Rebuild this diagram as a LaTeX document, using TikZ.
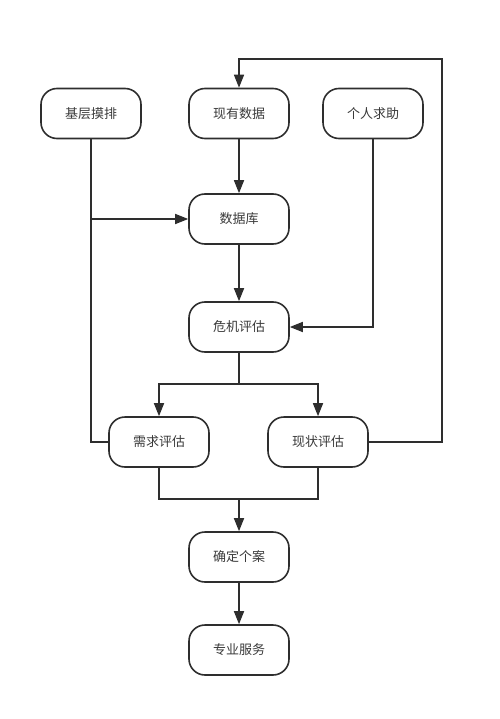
\documentclass[tikz,border=0pt]{standalone}
\usepackage{fontspec}
\newfontfamily\cjk{Noto Sans CJK SC}
\usetikzlibrary{arrows.meta}
\definecolor{ln}{HTML}{2E2E2E}
\definecolor{tx}{HTML}{3A3A3A}
\tikzset{
  box/.style={draw=ln, line width=1.6pt, rounded corners=16pt, fill=white,
    minimum width=100pt, minimum height=50pt, inner sep=0pt,
    font=\cjk\fontsize{13}{15}\selectfont, text=tx},
  conn/.style={draw=ln, line width=1.6pt},
  arr/.style={conn, -{Triangle[length=13pt,width=10pt]}}
}
\begin{document}
\begin{tikzpicture}[x=1pt,y=-1pt]
\useasboundingbox (0,0) rectangle (499,719);
\node[box] (jc) at (91,113.5) {基层摸排};
\node[box] (xy) at (239,113.5) {现有数据};
\node[box] (gr) at (373,113.5) {个人求助};
\node[box] (sj) at (239,219) {数据库};
\node[box] (wj) at (239,327) {危机评估};
\node[box] (xq) at (159,442) {需求评估};
\node[box] (xz) at (318,442) {现状评估};
\node[box] (qd) at (239,557) {确定个案};
\node[box] (zy) at (239,650) {专业服务};
\coordinate (top) at (239,59);
\coordinate (rt) at (442,59);
\coordinate (lj) at (91,219);
\coordinate (sp) at (239,384);
\coordinate (mg) at (239,499);
\draw[arr] (jc.south) -- (lj) -- (sj.west);
\draw[conn] (xq.west) -| (lj);
\draw[arr] (xy) -- (sj);
\draw[arr] (gr.south) |- (wj.east);
\draw[arr] (sj) -- (wj);
\draw[conn] (wj.south) -- (sp);
\draw[arr] (sp) -| (xq.north);
\draw[arr] (sp) -| (xz.north);
\draw[arr] (xz.east) -| (rt) -- (top) -- (xy.north);
\draw[conn] (xq.south) |- (mg) -| (xz.south);
\draw[arr] (mg) -- (qd.north);
\draw[arr] (qd) -- (zy);
\end{tikzpicture}
\end{document}
